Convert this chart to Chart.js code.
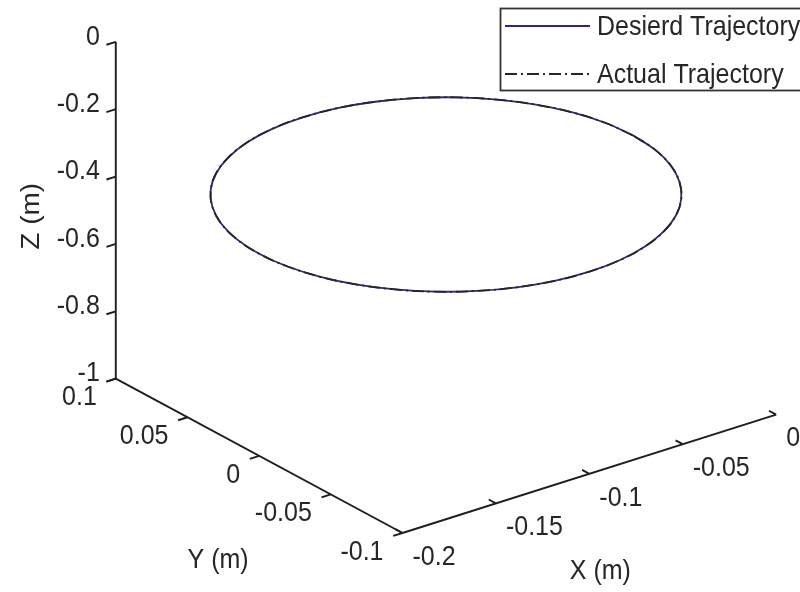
<!DOCTYPE html>
<html>
<head>
<meta charset="utf-8">
<script src="https://cdn.jsdelivr.net/npm/chart.js@4.4.1/dist/chart.umd.min.js"></script>
<style>
  body { margin: 0; background: #fff; }
  #wrap { width: 800px; height: 592px; }
</style>
</head>
<body>
<div id="wrap"><canvas id="traj" width="800" height="592"></canvas></div>
<script>
// axis limits and ticks
const xLim = [-0.2, 0];
const yLim = [-0.1, 0.1];
const zLim = [-1, 0];
const xTicks = [-0.2, -0.15, -0.1, -0.05, 0];
const yTicks = [0.1, 0.05, 0, -0.05, -0.1];
const zTicks = [0, -0.2, -0.4, -0.6, -0.8, -1];
const xTickLabels = ['-0.2', '-0.15', '-0.1', '-0.05', '0'];
const yTickLabels = ['0.1', '0.05', '0', '-0.05', '-0.1'];
const zTickLabels = ['0', '-0.2', '-0.4', '-0.6', '-0.8', '-1'];

// desired trajectory (m)
const desX = [0, -0.0015, -0.006, -0.0134, -0.0234, -0.0357, -0.05, -0.0658, -0.0826, -0.1,
  -0.1174, -0.1342, -0.15, -0.1643, -0.1766, -0.1866, -0.194, -0.1985, -0.2,
  -0.1985, -0.194, -0.1866, -0.1766, -0.1643, -0.15, -0.1342, -0.1174, -0.1,
  -0.0826, -0.0658, -0.05, -0.0357, -0.0234, -0.0134, -0.006, -0.0015, 0];
const desY = [0, 0.0174, 0.0342, 0.05, 0.0643, 0.0766, 0.0866, 0.094, 0.0985, 0.1,
  0.0985, 0.094, 0.0866, 0.0766, 0.0643, 0.05, 0.0342, 0.0174, 0,
  -0.0174, -0.0342, -0.05, -0.0643, -0.0766, -0.0866, -0.094, -0.0985, -0.1,
  -0.0985, -0.094, -0.0866, -0.0766, -0.0643, -0.05, -0.0342, -0.0174, 0];
const desZ = [-0.4, -0.4, -0.4, -0.4, -0.4, -0.4, -0.4, -0.4, -0.4, -0.4,
  -0.4, -0.4, -0.4, -0.4, -0.4, -0.4, -0.4, -0.4, -0.4,
  -0.4, -0.4, -0.4, -0.4, -0.4, -0.4, -0.4, -0.4, -0.4,
  -0.4, -0.4, -0.4, -0.4, -0.4, -0.4, -0.4, -0.4, -0.4];

// actual trajectory (m) - lies on top of the desired one
const actX = [0, -0.0015, -0.006, -0.0134, -0.0234, -0.0357, -0.05, -0.0658, -0.0826, -0.1,
  -0.1174, -0.1342, -0.15, -0.1643, -0.1766, -0.1866, -0.194, -0.1985, -0.2,
  -0.1985, -0.194, -0.1866, -0.1766, -0.1643, -0.15, -0.1342, -0.1174, -0.1,
  -0.0826, -0.0658, -0.05, -0.0357, -0.0234, -0.0134, -0.006, -0.0015, 0];
const actY = [0, 0.0174, 0.0342, 0.05, 0.0643, 0.0766, 0.0866, 0.094, 0.0985, 0.1,
  0.0985, 0.094, 0.0866, 0.0766, 0.0643, 0.05, 0.0342, 0.0174, 0,
  -0.0174, -0.0342, -0.05, -0.0643, -0.0766, -0.0866, -0.094, -0.0985, -0.1,
  -0.0985, -0.094, -0.0866, -0.0766, -0.0643, -0.05, -0.0342, -0.0174, 0];
const actZ = [-0.4, -0.4, -0.4, -0.4, -0.4, -0.4, -0.4, -0.4, -0.4, -0.4,
  -0.4, -0.4, -0.4, -0.4, -0.4, -0.4, -0.4, -0.4, -0.4,
  -0.4, -0.4, -0.4, -0.4, -0.4, -0.4, -0.4, -0.4, -0.4,
  -0.4, -0.4, -0.4, -0.4, -0.4, -0.4, -0.4, -0.4, -0.4];

const seriesNames = ['Desierd Trajectory', 'Actual Trajectory'];

// matlab style view(az, el), orthographic, box normalised to a unit cube
const az = -37.5 * Math.PI / 180;
const el = 30 * Math.PI / 180;
function project(x, y, z) {
  var xn = (x - xLim[0]) / (xLim[1] - xLim[0]);
  var yn = (y - yLim[0]) / (yLim[1] - yLim[0]);
  var zn = (z - zLim[0]) / (zLim[1] - zLim[0]);
  return {
    x: Math.cos(az) * xn + Math.sin(az) * yn,
    y: -Math.sin(el) * Math.sin(az) * xn + Math.sin(el) * Math.cos(az) * yn + Math.cos(el) * zn
  };
}
function toPoints(xs, ys, zs) {
  return xs.map((x, i) => project(x, ys[i], zs[i]));
}

const FONT = '25px "Liberation Sans", Arial, sans-serif';
const INK = '#262626';

function stretchedText(ctx, s, x, y, align, rot) {
  ctx.save();
  ctx.translate(x, y);
  if (rot) {
    ctx.rotate(rot);
    ctx.scale(1.12, 1);
  } else {
    ctx.scale(1, 1.12);
  }
  ctx.textAlign = align;
  ctx.textBaseline = 'middle';
  ctx.fillText(s, 0, 0);
  ctx.restore();
}

const axes3d = {
  id: 'axes3d',
  beforeDatasetsDraw(chart) {
    const ctx = chart.ctx;
    const sx = chart.scales.x, sy = chart.scales.y;
    const px = (p) => [sx.getPixelForValue(p.x), sy.getPixelForValue(p.y)];
    const seg = (a, b) => {
      const p = px(a), q = px(b);
      ctx.beginPath(); ctx.moveTo(p[0], p[1]); ctx.lineTo(q[0], q[1]); ctx.stroke();
    };
    const dx = 0.025 * (xLim[1] - xLim[0]);
    const dy = 0.025 * (yLim[1] - yLim[0]);
    ctx.save();
    ctx.strokeStyle = '#1e1e1e';
    ctx.lineWidth = 1.9;
    // axis lines
    seg(project(xLim[0], yLim[1], zLim[0]), project(xLim[0], yLim[1], zLim[1]));
    seg(project(xLim[0], yLim[1], zLim[0]), project(xLim[0], yLim[0], zLim[0]));
    seg(project(xLim[0], yLim[0], zLim[0]), project(xLim[1], yLim[0], zLim[0]));
    ctx.fillStyle = INK;
    ctx.font = FONT;
    // z ticks
    zTicks.forEach((z, i) => {
      const a = project(xLim[0], yLim[1], z);
      seg(a, project(xLim[0] - dx, yLim[1], z));
      const p = px(a);
      stretchedText(ctx, zTickLabels[i], p[0] - 16, p[1] - 5, 'right');
    });
    // y ticks
    yTicks.forEach((y, i) => {
      const a = project(xLim[0], y, zLim[0]);
      seg(a, project(xLim[0] - dx, y, zLim[0]));
      const p = px(a);
      stretchedText(ctx, yTickLabels[i], p[0] - 19, p[1] + 19, 'right');
    });
    // x ticks
    xTicks.forEach((x, i) => {
      const a = project(x, yLim[0], zLim[0]);
      seg(a, project(x, yLim[0] + dy, zLim[0]));
      const p = px(a);
      stretchedText(ctx, xTickLabels[i], p[0] + 10, p[1] + 24, 'left');
    });
    // axis titles
    let m = px(project((xLim[0] + xLim[1]) / 2, yLim[0], zLim[0]));
    stretchedText(ctx, 'X (m)', m[0] + 11, m[1] + 97, 'center');
    m = px(project(xLim[0], (yLim[0] + yLim[1]) / 2, zLim[0]));
    stretchedText(ctx, 'Y (m)', m[0] - 41, m[1] + 104, 'center');
    m = px(project(xLim[0], yLim[1], (zLim[0] + zLim[1]) / 2));
    stretchedText(ctx, 'Z (m)', m[0] - 84, m[1] + 6, 'center', -Math.PI / 2);
    ctx.restore();
  },
  afterDraw(chart) {
    // legend box, top right, runs off the canvas edge like the figure
    const ctx = chart.ctx;
    const ds = chart.data.datasets;
    ctx.save();
    ctx.fillStyle = '#fff';
    ctx.fillRect(500, 8, 320, 82);
    ctx.strokeStyle = '#333';
    ctx.lineWidth = 1.8;
    ctx.strokeRect(500.5, 8.5, 320, 82);
    ctx.font = FONT;
    ctx.fillStyle = INK;
    [1, 0].forEach((k, row) => {
      const yy = 26 + row * 48;
      ctx.save();
      ctx.strokeStyle = ds[k].borderColor;
      ctx.lineWidth = 1.8;
      ctx.setLineDash(ds[k].borderDash || []);
      ctx.beginPath(); ctx.moveTo(505, yy); ctx.lineTo(590, yy); ctx.stroke();
      ctx.restore();
      stretchedText(ctx, seriesNames[row], 597, yy + 1, 'left');
    });
    ctx.restore();
  }
};

new Chart(document.getElementById('traj'), {
  type: 'scatter',
  data: {
    datasets: [{
      label: seriesNames[1],
      data: toPoints(actX, actY, actZ),
      showLine: true,
      borderColor: '#2e2222',
      borderWidth: 1.8,
      borderDash: [12, 4, 2, 4],
      pointRadius: 0,
      tension: 0.4,
      order: 0
    }, {
      label: seriesNames[0],
      data: toPoints(desX, desY, desZ),
      showLine: true,
      borderColor: '#2a2a78',
      borderWidth: 1.8,
      pointRadius: 0,
      tension: 0.4,
      order: 1
    }]
  },
  options: {
    responsive: false,
    animation: false,
    layout: { padding: 0 },
    scales: {
      x: { type: 'linear', min: -0.8546, max: 0.8440, display: false },
      y: { type: 'linear', min: -0.1517, max: 1.3702, display: false }
    },
    plugins: {
      legend: { display: false },
      tooltip: { enabled: false }
    }
  },
  plugins: [axes3d]
});
</script>
</body>
</html>
